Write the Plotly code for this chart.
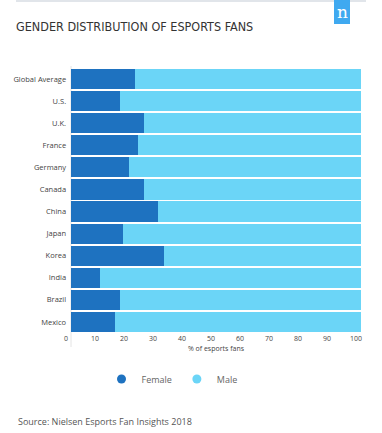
import plotly.graph_objects as go

countries = ["Global Average", "U.S.", "U.K.", "France", "Germany", "Canada",
             "China", "Japan", "Korea", "India", "Brazil", "Mexico"]
female = [22, 17, 25, 23, 20, 25, 30, 18, 32, 10, 17, 15]
male = [100 - f for f in female]
tick_vals = [0, 10, 20, 30, 40, 50, 60, 70, 80, 90, 100]

C_F = "#1e72c0"
C_M = "#6bd5f7"

W, H = 382, 433
L, R, T, B = 71, 21, 68, 100
pw, ph = W - L - R, H - T - B

def px(x):
    return (x - L) / pw

def py(y):
    return (H - B - y) / ph

fig = go.Figure()
fig.add_trace(go.Bar(y=countries, x=female, orientation="h", marker=dict(color=C_F, line=dict(width=0)),
                     name="Female", showlegend=False))
fig.add_trace(go.Bar(y=countries, x=male, orientation="h", marker=dict(color=C_M, line=dict(width=0)),
                     name="Male", showlegend=False))
fig.add_trace(go.Scatter(x=[None], y=[None], mode="markers", name="Female",
                         marker=dict(color=C_F, size=9, symbol="circle")))
fig.add_trace(go.Scatter(x=[None], y=[None], mode="markers", name="Male",
                         marker=dict(color=C_M, size=9, symbol="circle")))

fig.update_layout(
    width=W, height=H,
    margin=dict(l=L, r=R, t=T, b=B, autoexpand=False),
    paper_bgcolor="white", plot_bgcolor="white",
    barmode="stack", bargap=0.09,
    title=dict(text="GENDER DISTRIBUTION OF ESPORTS FANS",
               font=dict(family="DejaVu Sans Condensed", size=12.5, color="#333333"),
               x=16 / W, xanchor="left", xref="container",
               y=1 - 27 / H, yanchor="middle", yref="container"),
    xaxis=dict(range=[0, 100], tickvals=tick_vals, showgrid=False, zeroline=False,
               showline=False, ticks="", ticklabelshift=-5, automargin=False,
               tickfont=dict(family="Open Sans", size=7, color="#444444"),
               title=dict(text="% of esports fans", standoff=4,
                          font=dict(family="Open Sans", size=7, color="#444444"))),
    yaxis=dict(categoryorder="array", categoryarray=countries[::-1],
               autorange=True, showgrid=False, zeroline=False, automargin=False,
               showline=False, ticks="", ticksuffix="  ",
               tickfont=dict(family="Open Sans", size=7.5, color="#444444")),
    legend=dict(orientation="h", x=px(172), xanchor="center", y=py(379), yanchor="middle",
                traceorder="normal",
                font=dict(family="Open Sans", size=9, color="#666666"),
                itemwidth=30, tracegroupgap=0),
    showlegend=True,
    shapes=[
        dict(type="line", xref="paper", yref="paper", x0=px(16), x1=px(366), y0=py(1), y1=py(1),
             line=dict(color="#e1e5ea", width=2)),
        dict(type="rect", xref="paper", yref="paper", x0=px(334), x1=px(350), y0=py(24), y1=py(-2),
             fillcolor="#3fa9f0", line=dict(width=0)),
        dict(type="line", xref="paper", yref="paper", x0=0, x1=0, y0=py(66), y1=py(347),
             line=dict(color="#e4e4e4", width=1), layer="below"),
    ],
    annotations=[
        dict(text="n", xref="paper", yref="paper", x=px(342), y=py(12), xanchor="center", yanchor="middle",
             showarrow=False, font=dict(family="DejaVu Serif", size=17, color="white")),
        dict(text="Source: Nielsen Esports Fan Insights 2018", xref="paper", yref="paper",
             x=px(16), y=py(421), xanchor="left", yanchor="middle", showarrow=False,
             font=dict(family="Open Sans", size=9, color="#555555")),
    ],
)

fig.write_html("out.html", config={"displayModeBar": False},
               post_script="document.body.style.margin='0';")
